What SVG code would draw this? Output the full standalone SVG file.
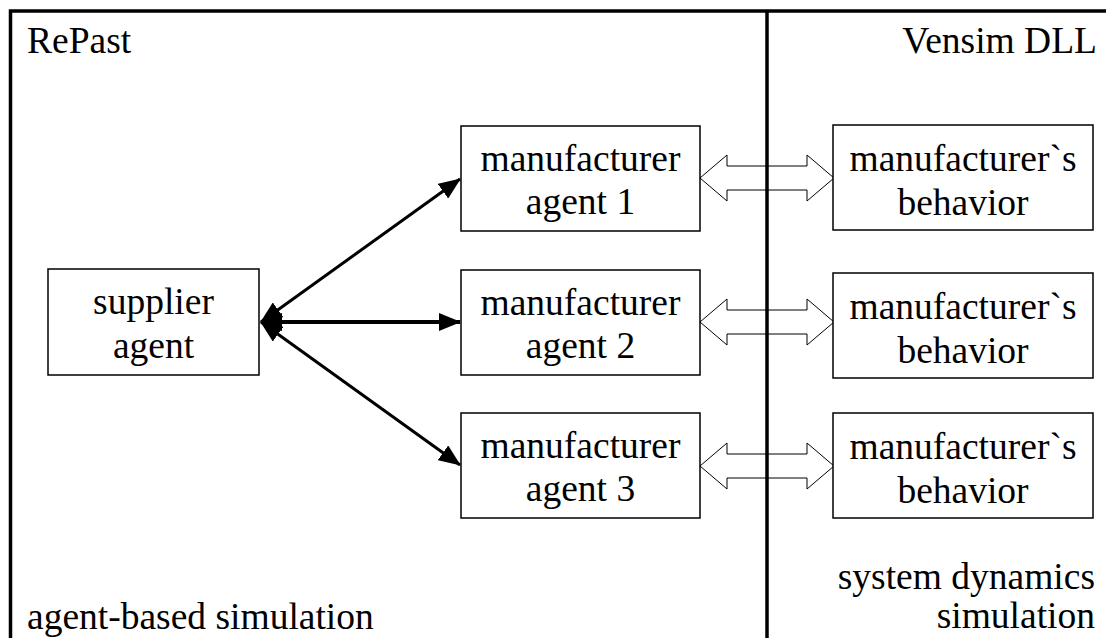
<svg xmlns="http://www.w3.org/2000/svg" width="1106" height="638" viewBox="0 0 1106 638">
<style>
  text { font-family: "Liberation Serif", "Times New Roman", serif; font-size: 37.5px; fill: #000; }
  .box { fill: #fff; stroke: #000; stroke-width: 1.5; }
  .conn { stroke: #000; stroke-width: 3; fill: none; marker-start: url(#ah); marker-end: url(#ah); }
  .thick { stroke-width: 4; }
  .dbl { fill: #fff; stroke: #000; stroke-width: 1; }
  .frame { stroke: #000; stroke-width: 3.5; fill: none; }
  .c { text-anchor: middle; }
  .r { text-anchor: end; }
</style>
<defs>
  <marker id="ah" markerUnits="userSpaceOnUse" markerWidth="22" markerHeight="18" viewBox="0 0 22 18" refX="21" refY="9" orient="auto-start-reverse">
    <path d="M0,0 L22,9 L0,18 Z" fill="#000"/>
  </marker>
</defs>
<rect width="1106" height="638" fill="#fff"/>
<g id="frame">
  <path class="frame" d="M10.5,640 L10.5,11 L1110,11"/>
</g>
<text x="27" y="53">RePast</text>
<text class="r" x="1097" y="53">Vensim DLL</text>
<text x="27" y="629">agent-based simulation</text>
<text class="r" x="1095" y="589">system dynamics</text>
<text class="r" x="1095" y="628">simulation</text>

<g id="connectors">
  <line class="conn" x1="261" y1="322" x2="460" y2="179"/>
  <line class="conn thick" x1="261" y1="322" x2="460" y2="322"/>
  <line class="conn" x1="261" y1="322" x2="460" y2="465"/>
  <polygon class="dbl" points="700,178 727,155 727,166 807,166 807,155 834,178 807,201 807,190 727,190 727,201"/>
  <polygon class="dbl" points="700,322 727,299 727,310 807,310 807,299 834,322 807,345 807,334 727,334 727,345"/>
  <polygon class="dbl" points="700,466 727,443 727,454 807,454 807,443 834,466 807,489 807,478 727,478 727,489"/>
</g>
<g id="divider">
  <line x1="767" y1="11" x2="767" y2="640" stroke="#000" stroke-width="3.5"/>
</g>

<g id="supplier">
  <rect class="box" x="48" y="269" width="211" height="106"/>
  <text class="c" x="153.5" y="314">supplier</text>
  <text class="c" x="153.5" y="358">agent</text>
</g>
<g id="manufacturer1">
  <rect class="box" x="461" y="126" width="239" height="105"/>
  <text class="c" x="580.5" y="171">manufacturer</text>
  <text class="c" x="580.5" y="214">agent 1</text>
</g>
<g id="manufacturer2">
  <rect class="box" x="461" y="270" width="239" height="105"/>
  <text class="c" x="580.5" y="315">manufacturer</text>
  <text class="c" x="580.5" y="358">agent 2</text>
</g>
<g id="manufacturer3">
  <rect class="box" x="461" y="413" width="239" height="105"/>
  <text class="c" x="580.5" y="458">manufacturer</text>
  <text class="c" x="580.5" y="501">agent 3</text>
</g>
<g id="behavior1">
  <rect class="box" x="833" y="125" width="260" height="105"/>
  <text class="c" x="963" y="171">manufacturer`s</text>
  <text class="c" x="963" y="215">behavior</text>
</g>
<g id="behavior2">
  <rect class="box" x="833" y="273" width="260" height="105"/>
  <text class="c" x="963" y="319">manufacturer`s</text>
  <text class="c" x="963" y="363">behavior</text>
</g>
<g id="behavior3">
  <rect class="box" x="833" y="413" width="260" height="105"/>
  <text class="c" x="963" y="459">manufacturer`s</text>
  <text class="c" x="963" y="503">behavior</text>
</g>
</svg>
